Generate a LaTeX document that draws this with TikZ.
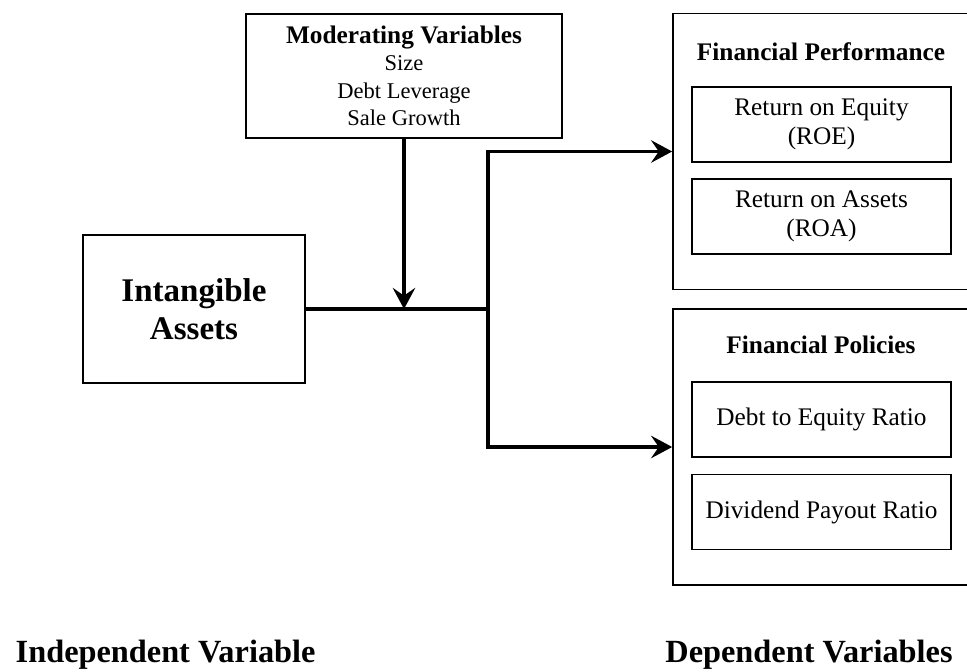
\documentclass[tikz,border=0pt]{standalone}
\usepackage{fontspec}
\setmainfont{Liberation Serif}
\usetikzlibrary{arrows.meta}

\tikzset{
	outerbox/.style={draw, line width=1.2pt, minimum width=7.425cm, minimum height=6.9cm},
	innerbox/.style={draw, line width=1.2pt, minimum width=6.475cm, minimum height=1.875cm,
		align=center, font=\fontsize{18}{21}\selectfont},
	heading/.style={font=\bfseries\fontsize{18}{21}\selectfont},
	caption/.style={anchor=base, font=\bfseries\fontsize{23}{26}\selectfont},
	link/.style={line width=2.2pt}
}

\begin{document}
\begin{tikzpicture}[>={Stealth[length=15pt, width=16pt, inset=5.5pt]}]
	\useasboundingbox (0, 0) rectangle (24.175, -16.8);

	% moderator and independent variable
	\node[draw, line width=1.2pt, minimum width=7.9cm, minimum height=3.1cm, align=center,
		font=\fontsize{16}{19.5}\selectfont] (moderator) at (10.1, -1.9)
		{{\bfseries\fontsize{18}{19.5}\selectfont Moderating Variables}\\Size\\Debt Leverage\\Sale Growth};
	\node[draw, line width=1.2pt, minimum width=5.55cm, minimum height=3.7cm, align=center,
		font=\bfseries\fontsize{23.5}{27}\selectfont] (intangible) at (4.85, -7.725) {Intangible\\Assets};

	% dependent variables
	\node[outerbox] (performance) at (20.5375, -3.7875) {};
	\node[heading] (perftitle) at (20.525, -1.3) {Financial Performance};
	\node[innerbox] (roe) at (20.5375, -3.1125) {Return on Equity\\(ROE)};
	\node[innerbox] (roa) at (20.5375, -5.4125) {Return on Assets\\(ROA)};

	\node[outerbox] (policies) at (20.5375, -11.175) {};
	\node[heading] (poltitle) at (20.525, -8.625) {Financial Policies};
	\node[innerbox] (debt) at (20.5375, -10.4875) {Debt to Equity Ratio};
	\node[innerbox] (dividend) at (20.5375, -12.8) {Dividend Payout Ratio};

	% connectors
	\coordinate (split) at (12.2, -7.725);
	\draw[link] (intangible.east) -- (split);
	\draw[link, ->] (moderator.south) -- (moderator.south |- intangible.east);
	\draw[link, ->] (split) |- (performance.west);
	\draw[link, ->] (split) |- (policies.west);

	\node[caption] (indep) at (4.14, -16.55) {Independent Variable};
	\node[caption] (dep) at (20.225, -16.55) {Dependent Variables};

\end{tikzpicture}
\end{document}
